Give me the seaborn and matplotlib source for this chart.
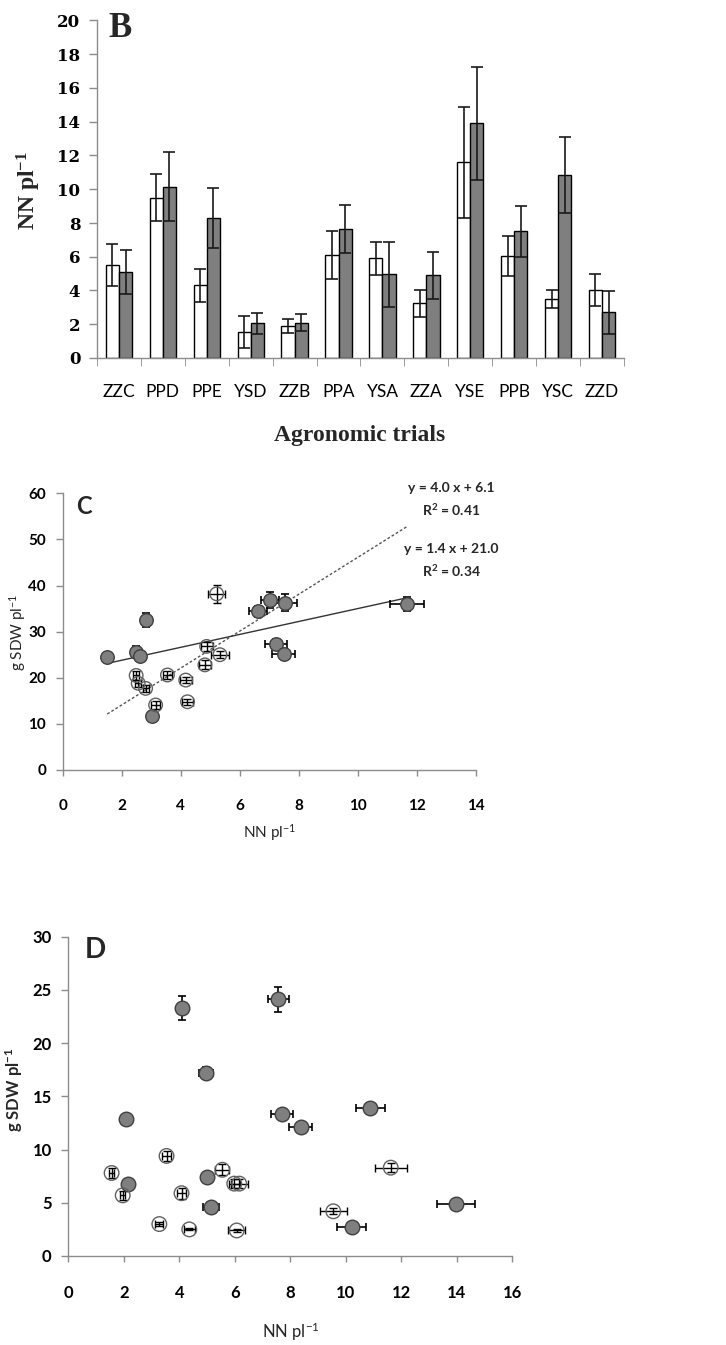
import numpy as np
import pandas as pd
import matplotlib
matplotlib.use("Agg")
import matplotlib.pyplot as plt
import seaborn as sns

# --- panel B : NN per plant by trial, two seasons ---
trials = ["ZZC", "PPD", "PPE", "YSD", "ZZB", "PPA", "YSA", "ZZA", "YSE", "PPB", "YSC", "ZZD"]
nn_white = [5.5, 9.5, 4.3, 1.55, 1.9, 6.1, 5.9, 3.25, 11.6, 6.05, 3.5, 4.05]
nn_white_err = [1.25, 1.4, 0.97, 0.93, 0.43, 1.4, 1.0, 0.8, 3.3, 1.2, 0.55, 0.95]
nn_gray = [5.1, 10.15, 8.3, 2.05, 2.1, 7.65, 4.95, 4.9, 13.9, 7.5, 10.85, 2.7]
nn_gray_err = [1.3, 2.05, 1.8, 0.63, 0.5, 1.4, 1.9, 1.4, 3.35, 1.5, 2.27, 1.25]

# --- panel C : shoot dry weight vs NN ---
c_fill_x = [1.51, 2.81, 2.47, 2.62, 3.02, 6.61, 7.03, 7.54, 7.23, 7.49, 11.67]
c_fill_y = [24.4, 32.5, 25.6, 24.8, 11.7, 34.4, 36.9, 36.3, 27.3, 25.1, 36.0]
c_fill_xerr = [0.05, 0.05, 0.1, 0.1, 0.1, 0.3, 0.3, 0.4, 0.37, 0.4, 0.58]
c_fill_yerr = [0.8, 1.5, 1.2, 0.8, 0.5, 1.2, 1.8, 1.8, 1.0, 0.8, 1.6]
c_open_x = [5.22, 4.88, 5.33, 4.82, 2.49, 2.56, 2.81, 3.55, 4.17, 4.23, 3.15]
c_open_y = [38.2, 26.8, 25.0, 22.8, 20.5, 18.8, 17.7, 20.6, 19.5, 14.8, 14.1]
c_open_xerr = [0.28, 0.2, 0.3, 0.2, 0.1, 0.1, 0.1, 0.15, 0.2, 0.2, 0.15]
c_open_yerr = [1.9, 1.0, 0.8, 1.0, 1.0, 0.8, 0.8, 0.8, 0.7, 0.6, 0.9]
fit_dotted = (4.0, 6.1, 0.41)
fit_solid = (1.4, 21.0, 0.34)

# --- panel D ---
d_fill_x = [4.08, 7.57, 4.96, 2.08, 7.69, 8.37, 10.89, 2.16, 5.01, 5.14, 10.21, 13.97]
d_fill_y = [23.3, 24.1, 17.2, 12.9, 13.3, 12.1, 13.9, 6.8, 7.4, 4.6, 2.7, 4.9]
d_fill_xerr = [0.15, 0.38, 0.25, 0.1, 0.4, 0.43, 0.53, 0.1, 0.15, 0.28, 0.51, 0.69]
d_fill_yerr = [1.1, 1.2, 0.6, 0.3, 0.5, 0.3, 0.5, 0.3, 0.3, 0.3, 0.2, 0.2]
d_open_x = [3.54, 1.56, 1.96, 4.08, 5.55, 5.98, 6.16, 3.28, 4.36, 6.07, 11.62, 9.55]
d_open_y = [9.4, 7.8, 5.7, 5.9, 8.1, 6.8, 6.8, 3.0, 2.5, 2.4, 8.3, 4.2]
d_open_xerr = [0.15, 0.1, 0.1, 0.15, 0.25, 0.2, 0.3, 0.15, 0.2, 0.3, 0.57, 0.48]
d_open_yerr = [0.5, 0.5, 0.4, 0.5, 0.5, 0.4, 0.4, 0.15, 0.1, 0.1, 0.4, 0.3]

W, H = 726, 1345
sns.set_style("ticks")
plt.rcParams["mathtext.default"] = "regular"
plt.rcParams["font.family"] = ["Lato", "DejaVu Sans"]

fig = plt.figure(figsize=(W / 100, H / 100), dpi=100)


def box(left, top, right, bottom):
    # pixel box -> figure fraction rect
    return [left / W, 1 - bottom / H, (right - left) / W, (bottom - top) / H]


def style_axes(ax):
    sns.despine(ax=ax)
    for s in ["left", "bottom"]:
        ax.spines[s].set_color("#8c8c8c")
        ax.spines[s].set_linewidth(1.0)
    ax.tick_params(colors="#8c8c8c", labelcolor="black", width=1.0)


# ================= B =================
axB = fig.add_axes(box(97, 20.5, 624, 358))
dfB = pd.DataFrame({
    "trial": trials * 2,
    "season": ["s1"] * len(trials) + ["s2"] * len(trials),
    "nn": nn_white + nn_gray,
})
sns.barplot(data=dfB, x="trial", y="nn", hue="season", palette={"s1": "white", "s2": "#7f7f7f"},
            edgecolor="black", linewidth=1.0, width=0.6, gap=0, errorbar=None, legend=False, ax=axB)
for cont, errs in zip(axB.containers, [nn_white_err, nn_gray_err]):
    xs = [p.get_x() + p.get_width() / 2 for p in cont]
    ys = [p.get_height() for p in cont]
    axB.errorbar(xs, ys, yerr=errs, fmt="none", ecolor="#1a1a1a", elinewidth=1.2, capsize=4, capthick=1.2)
axB.set_xlim(-0.5, len(trials) - 0.5)
axB.set_ylim(0, 20)
axB.set_yticks(range(0, 21, 2))
axB.set_xticks(np.arange(-0.5, len(trials), 1.0), minor=True)
style_axes(axB)
axB.tick_params(axis="x", which="major", length=0, pad=19, labelsize=12.5)
axB.tick_params(axis="x", which="minor", length=6, color="#8c8c8c")
axB.tick_params(axis="y", length=6, pad=6)
for lab in axB.get_yticklabels():
    lab.set_fontfamily("DejaVu Serif")
    lab.set_fontweight("bold")
    lab.set_fontsize(12)
axB.set_xlabel("")
axB.set_ylabel("")
serif = ["Liberation Serif", "DejaVu Serif"]
fig.text(108 / W, 1 - 37 / H, "B", family=serif, weight="bold", fontsize=25, va="baseline")
fig.text(29 / W, 1 - 191 / H, "NN pl$^{-1}$", family=serif, weight="bold", fontsize=17,
         rotation=90, ha="center", va="center")
fig.text(360 / W, 1 - 435 / H, "Agronomic trials", family=serif, weight="bold", fontsize=17,
         ha="center", va="center")

# ================= C =================
axC = fig.add_axes(box(62.7, 493.3, 475.7, 770))
dfC = pd.DataFrame({
    "x": c_fill_x + c_open_x,
    "y": c_fill_y + c_open_y,
    "grp": ["fill"] * len(c_fill_x) + ["open"] * len(c_open_x),
})
axC.errorbar(c_fill_x, c_fill_y, xerr=c_fill_xerr, yerr=c_fill_yerr, fmt="none", ecolor="black",
             elinewidth=1.2, capsize=3, capthick=1.2, zorder=2)
axC.errorbar(c_open_x, c_open_y, xerr=c_open_xerr, yerr=c_open_yerr, fmt="none", ecolor="black",
             elinewidth=1.0, capsize=3, capthick=1.0, zorder=2)
x_fit = np.array([min(c_fill_x), max(c_fill_x)])
axC.plot(x_fit, fit_dotted[0] * x_fit + fit_dotted[1], color="#555555", lw=1.0,
         linestyle=(0, (2, 1.5)), zorder=1)
axC.plot(x_fit, fit_solid[0] * x_fit + fit_solid[1], color="#333333", lw=1.0, zorder=1)
sns.scatterplot(data=dfC[dfC.grp == "fill"], x="x", y="y", s=95, color="#7f7f7f",
                edgecolor="#404040", linewidth=1.0, zorder=3, ax=axC)
sns.scatterplot(data=dfC[dfC.grp == "open"], x="x", y="y", s=95, facecolor="none",
                edgecolor="#606060", linewidth=1.0, zorder=3, ax=axC)
axC.set_xlim(0, 14)
axC.set_ylim(0, 60)
axC.set_xticks(range(0, 15, 2))
axC.set_yticks(range(0, 61, 10))
style_axes(axC)
axC.tick_params(axis="x", length=4, pad=17, labelsize=11)
axC.tick_params(axis="y", length=5, pad=7, labelsize=11)
for lab in axC.get_xticklabels() + axC.get_yticklabels():
    lab.set_fontweight("bold")
axC.set_xlabel("")
axC.set_ylabel("")
fig.text(83.5 / W, 1 - 507 / H, "C", weight="bold", fontsize=17, ha="center", va="center")
fig.text(18 / W, 1 - 632 / H, "g SDW pl$^{-1}$", fontsize=11, rotation=90, ha="center", va="center")
fig.text(270 / W, 1 - 833 / H, "NN pl$^{-1}$", fontsize=11, ha="center", va="center")
for (a, b, r2), (py1, py2) in zip([fit_dotted, fit_solid], [(488, 510), (549, 571)]):
    fig.text(451 / W, 1 - py1 / H, f"y = {a:.1f} x + {b:.1f}", weight="bold", fontsize=10,
             ha="center", va="center")
    fig.text(451 / W, 1 - py2 / H, f"R$^2$ = {r2:.2f}", weight="bold", fontsize=10,
             ha="center", va="center")

# ================= D =================
axD = fig.add_axes(box(68.3, 936.7, 512.3, 1256))
dfD = pd.DataFrame({
    "x": d_fill_x + d_open_x,
    "y": d_fill_y + d_open_y,
    "grp": ["fill"] * len(d_fill_x) + ["open"] * len(d_open_x),
})
axD.errorbar(d_fill_x, d_fill_y, xerr=d_fill_xerr, yerr=d_fill_yerr, fmt="none", ecolor="black",
             elinewidth=1.2, capsize=3, capthick=1.2, zorder=2)
axD.errorbar(d_open_x, d_open_y, xerr=d_open_xerr, yerr=d_open_yerr, fmt="none", ecolor="black",
             elinewidth=1.0, capsize=3, capthick=1.0, zorder=2)
sns.scatterplot(data=dfD[dfD.grp == "fill"], x="x", y="y", s=110, color="#7f7f7f",
                edgecolor="#404040", linewidth=1.0, zorder=3, ax=axD)
sns.scatterplot(data=dfD[dfD.grp == "open"], x="x", y="y", s=110, facecolor="none",
                edgecolor="#606060", linewidth=1.0, zorder=3, ax=axD)
axD.set_xlim(0, 16)
axD.set_ylim(0, 30)
axD.set_xticks(range(0, 17, 2))
axD.set_yticks(range(0, 31, 5))
style_axes(axD)
axD.tick_params(axis="x", length=4, pad=17, labelsize=12)
axD.tick_params(axis="y", length=5, pad=7, labelsize=12)
for lab in axD.get_xticklabels() + axD.get_yticklabels():
    lab.set_fontweight("bold")
axD.set_xlabel("")
axD.set_ylabel("")
fig.text(95 / W, 1 - 950 / H, "D", weight="bold", fontsize=20, ha="center", va="center")
fig.text(14 / W, 1 - 1090 / H, "g SDW pl$^{-1}$", weight="bold", fontsize=12, rotation=90,
         ha="center", va="center")
fig.text(291 / W, 1 - 1332 / H, "NN pl$^{-1}$", fontsize=12, ha="center", va="center")

fig.savefig("out.png", dpi=100, facecolor="white")
